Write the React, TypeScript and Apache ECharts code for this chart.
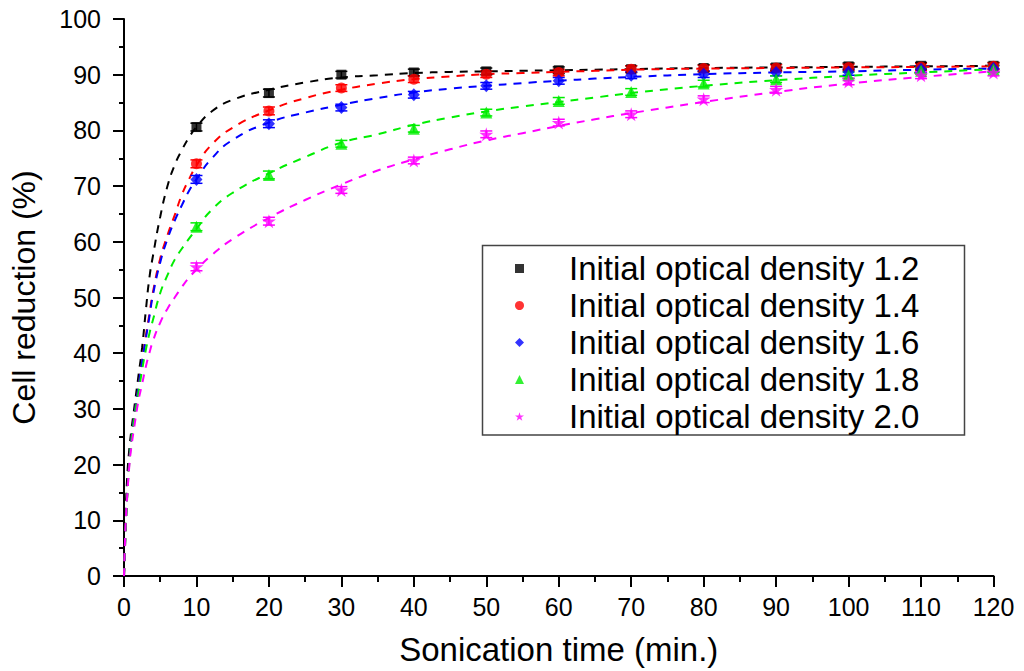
import React, { useEffect, useRef } from "react";
import * as echarts from "echarts";

// ---------- data ----------
const SERIES_NAMES = [
  "Initial optical density 1.2",
  "Initial optical density 1.4",
  "Initial optical density 1.6",
  "Initial optical density 1.8",
  "Initial optical density 2.0",
];

// measured points (sonication time, min)
const TIME_POINTS = [10, 20, 30, 40, 50, 60, 70, 80, 90, 100, 110, 120];
const OD12_POINTS = [80.6, 86.7, 90.0, 90.4, 90.6, 90.8, 91.0, 91.2, 91.3, 91.5, 91.6, 91.6];
const OD14_POINTS = [74.0, 83.5, 87.6, 89.2, 90.1, 90.4, 91.0, 91.1, 91.2, 91.3, 91.4, 91.5];
const OD16_POINTS = [71.2, 81.2, 84.1, 86.4, 88.0, 88.9, 89.9, 90.1, 90.4, 90.5, 91.0, 91.1];
const OD18_POINTS = [62.7, 72.0, 77.6, 80.3, 83.2, 85.3, 86.9, 88.4, 89.2, 89.9, 90.7, 91.0];
const OD20_POINTS = [55.5, 63.7, 69.3, 74.6, 79.3, 81.4, 82.9, 85.6, 87.3, 88.8, 89.9, 90.4];
// half-width of the small error bars
const ERRORS = [0.7, 0.7, 0.6, 0.6, 0.6, 0.6, 0.6, 0.6, 0.6, 0.6, 0.6, 0.6];

// fitted (dashed) curves
const FIT_X = [0, 0.25, 0.5, 0.75, 1, 1.5, 2, 2.5, 3, 3.5, 4, 5, 6, 7, 8, 9, 10, 12, 15, 20, 25, 30, 35, 40, 45, 50, 55, 60, 65, 70, 80, 90, 100, 110, 120];
const OD12_FIT = [0, 12, 19, 23, 26, 31, 36, 41, 47.5, 53.5, 57.5, 64.5, 70, 73.8, 76.5, 78.8, 80.6, 83.3, 85.5, 87.3, 88.6, 89.5, 89.9, 90.3, 90.5, 90.6, 90.7, 90.8, 90.9, 91.0, 91.2, 91.3, 91.4, 91.5, 91.6];
const OD14_FIT = [0, 9, 16, 21, 24.5, 29.5, 34, 38.5, 43, 47, 51, 57, 61.2, 64.8, 68.5, 71.3, 73.7, 77.3, 80.5, 83.6, 85.8, 87.3, 88.4, 89.2, 89.7, 90.1, 90.3, 90.5, 90.7, 90.9, 91.1, 91.2, 91.3, 91.4, 91.5];
const OD16_FIT = [0, 9, 16, 21, 24.5, 29.5, 34, 38.5, 42.5, 46.5, 50.5, 56.3, 60.5, 63.8, 66.6, 69.2, 71.2, 74.8, 78.3, 81.4, 83.2, 84.6, 85.8, 86.8, 87.5, 88.0, 88.5, 88.9, 89.3, 89.6, 90.1, 90.4, 90.6, 90.9, 91.1];
const OD18_FIT = [0, 9, 15.5, 20.5, 24, 29, 33, 37, 40.5, 43.5, 46, 50.8, 54, 56.8, 58.8, 60.6, 62.3, 65.6, 68.8, 72.3, 75.2, 77.8, 79.3, 81.0, 82.3, 83.4, 84.3, 85.1, 85.9, 86.7, 88.0, 89.0, 89.8, 90.4, 91.0];
const OD20_FIT = [0, 10, 15.5, 20, 23, 27.5, 31.5, 34.5, 37.5, 40, 42.2, 45.5, 48, 50, 51.9, 53.6, 55, 57.5, 60.5, 64.3, 67.5, 70.3, 72.8, 74.8, 76.6, 78.2, 79.5, 80.8, 82.0, 83.1, 85.1, 86.9, 88.4, 89.6, 90.6];

const X_TITLE = "Sonication time (min.)";
const Y_TITLE = "Cell reduction (%)";

// ---------- styling ----------
const FONT = '"Liberation Sans", Arial, Helvetica, sans-serif';
const COLORS = ["#000000", "#ff0000", "#0000ff", "#00ee00", "#ff00ff"];
const STAR =
  "path://M50,0L61.2,34.5L97.6,34.5L68.2,55.9L79.4,90.5L50,69.1L20.6,90.5L31.8,55.9L2.4,34.5L38.8,34.5Z";
const SYMBOLS = ["rect", "circle", "diamond", "triangle", STAR];
const SYMBOL_SIZES: any[] = [10, 11, [12, 13], 12, 14];

const POINTS = [OD12_POINTS, OD14_POINTS, OD16_POINTS, OD18_POINTS, OD20_POINTS];
const FITS = [OD12_FIT, OD14_FIT, OD16_FIT, OD18_FIT, OD20_FIT];

function buildOption() {
  const series: any[] = [];
  FITS.forEach((fit, i) => {
    series.push({
      type: "line",
      name: "fit " + SERIES_NAMES[i],
      data: FIT_X.map((x, k) => [x, fit[k]]),
      showSymbol: false,
      smooth: 0.5,
      z: 1,
      lineStyle: { color: COLORS[i], width: 2, type: [8, 7] },
      silent: true,
    });
  });
  POINTS.forEach((pts, i) => {
    const color = COLORS[i];
    series.push({
      type: "custom",
      name: "err " + SERIES_NAMES[i],
      z: 2,
      silent: true,
      data: TIME_POINTS.map((x, k) => [x, pts[k] - ERRORS[k], pts[k] + ERRORS[k]]),
      encode: { x: 0, y: [1, 2] },
      renderItem: (_params: any, api: any) => {
        const x = api.value(0);
        const p1 = api.coord([x, api.value(1)]);
        const p2 = api.coord([x, api.value(2)]);
        const hw = 6;
        const st = { stroke: color, lineWidth: 1.5 };
        return {
          type: "group",
          children: [
            { type: "line", shape: { x1: p1[0], y1: p1[1], x2: p2[0], y2: p2[1] }, style: st },
            { type: "line", shape: { x1: p1[0] - hw, y1: p1[1], x2: p1[0] + hw, y2: p1[1] }, style: st },
            { type: "line", shape: { x1: p2[0] - hw, y1: p2[1], x2: p2[0] + hw, y2: p2[1] }, style: st },
          ],
        };
      },
    });
    series.push({
      type: "scatter",
      name: SERIES_NAMES[i],
      data: TIME_POINTS.map((x, k) => [x, pts[k]]),
      symbol: SYMBOLS[i],
      symbolSize: SYMBOL_SIZES[i],
      itemStyle: { color },
      z: 3,
    });
  });

  const axisCommon = {
    axisLine: { show: true, onZero: false, lineStyle: { color: "#000", width: 2 } },
    splitLine: { show: false },
  };

  return {
    animation: false,
    backgroundColor: "#ffffff",
    grid: { left: 121, right: 30.5, top: 19, bottom: 95, containLabel: false },
    xAxis: {
      type: "value",
      min: 0,
      max: 120,
      interval: 10,
      ...axisCommon,
      axisTick: { show: true, inside: false, length: 11, lineStyle: { color: "#000", width: 2 } },
      minorTick: { show: true, splitNumber: 2, length: 6, lineStyle: { color: "#000", width: 2 } },
      axisLabel: { color: "#000", fontFamily: FONT, fontSize: 25, margin: 18 },
      name: X_TITLE,
      nameLocation: "middle",
      nameGap: 57,
      nameTextStyle: { color: "#000", fontFamily: FONT, fontSize: 33 },
    },
    yAxis: {
      type: "value",
      min: 0,
      max: 100,
      interval: 10,
      ...axisCommon,
      axisTick: { show: true, inside: false, length: 11, lineStyle: { color: "#000", width: 2 } },
      minorTick: { show: true, splitNumber: 2, length: 5, lineStyle: { color: "#000", width: 2 } },
      axisLabel: { color: "#000", fontFamily: FONT, fontSize: 25, margin: 23 },
      name: Y_TITLE,
      nameLocation: "middle",
      nameGap: 84,
      nameTextStyle: { color: "#000", fontFamily: FONT, fontSize: 32 },
    },
    legend: {
      show: true,
      orient: "vertical",
      left: 515,
      top: 250,
      padding: 0,
      itemGap: 0,
      itemWidth: 9,
      itemHeight: 9,
      selectedMode: false,
      textStyle: {
        color: "#000",
        fontFamily: FONT,
        fontSize: 33,
        lineHeight: 37,
        padding: [0, 0, 0, 40],
      },
      data: SERIES_NAMES.map((n, i) => ({
        name: n,
        icon: SYMBOLS[i],
        itemStyle: { color: COLORS[i] },
      })),
    },
    graphic: [
      {
        type: "rect",
        z: 0,
        silent: true,
        shape: { x: 482.5, y: 245.5, width: 482, height: 189.5 },
        style: { fill: "none", stroke: "#444", lineWidth: 1.5 },
      },
    ],
    series,
  };
}

export default function App() {
  const ref = useRef<HTMLDivElement>(null);
  useEffect(() => {
    if (!ref.current) return;
    const chart = echarts.init(ref.current, undefined, { renderer: "svg" });
    chart.setOption(buildOption() as any);
    return () => chart.dispose();
  }, []);
  return (
    <div
      ref={ref}
      style={{ position: "fixed", left: 0, top: 0, width: 1024, height: 671, background: "#fff" }}
    />
  );
}
